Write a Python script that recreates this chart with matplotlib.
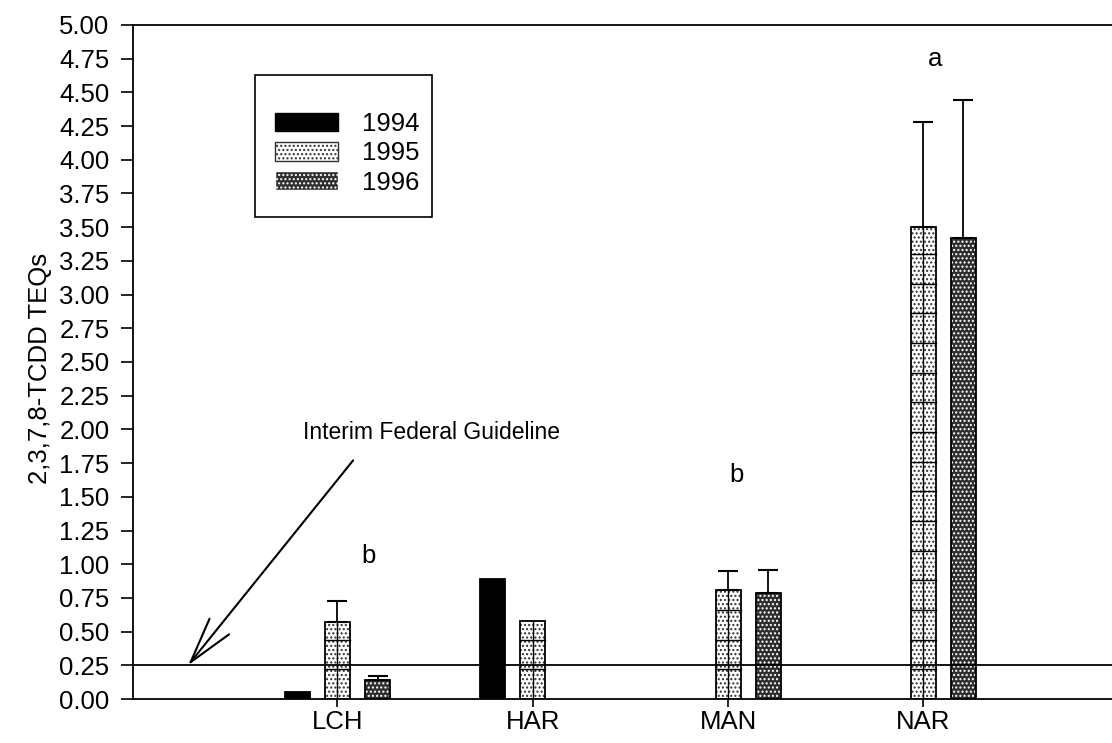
import numpy as np
import matplotlib
matplotlib.use("Agg")
import matplotlib.pyplot as plt
from matplotlib.patches import Patch, Rectangle

plt.rcParams['font.family'] = ['Liberation Sans', 'DejaVu Sans']

sites = ['LCH', 'HAR', 'MAN', 'NAR']
years = ['1994', '1995', '1996']
nan = np.nan
teq_1994 = [0.05, 0.89, nan, nan]
teq_1995 = [0.57, 0.58, 0.81, 3.50]
teq_1996 = [0.14, nan, 0.79, 3.42]
err_1995 = [0.16, 0.0, 0.14, 0.78]
err_1996 = [0.03, nan, 0.17, 1.02]
guideline = 0.25
group_letters = [('b', 0.16, 1.06), ('b', 2.045, 1.66), ('a', 3.06, 4.75)]
yticks = np.arange(0, 5.01, 0.25)

fs = 18.5
W, H = 1112, 743
fig = plt.figure(figsize=(W / 100, H / 100), dpi=100)
ax = fig.add_axes([0.1196, 0.0592, 0.8804, 0.9072])

x = np.arange(len(sites))
off = 0.205
w = 0.128
edge_lw = 1.3

# 1994: solid black
ax.bar(x - off, teq_1994, w, color='black', edgecolor='black', linewidth=edge_lw)

# 1995: light stipple with a grid
ax.bar(x, teq_1995, w, facecolor='white', edgecolor='#303030',
       hatch='....', linewidth=0)
ax.bar(x, teq_1995, w, facecolor='none', edgecolor='black', linewidth=edge_lw)
for xi, h in zip(x, teq_1995):
    ax.plot([xi, xi], [0, h], color='black', lw=1.0, zorder=3)
    for yy in np.arange(0.22, h, 0.22):
        ax.plot([xi - w / 2, xi + w / 2], [yy, yy], color='black', lw=1.0, zorder=3)

# 1996: dark stipple
ax.bar(x + off, teq_1996, w, facecolor='#2e2e2e', edgecolor='white',
       hatch='....', linewidth=0)
ax.bar(x + off, teq_1996, w, facecolor='none', edgecolor='black', linewidth=edge_lw)

# upper-only error bars
for xs, vals, errs in [(x, teq_1995, err_1995), (x + off, teq_1996, err_1996)]:
    for xi, v, e in zip(xs, vals, errs):
        if np.isnan(v) or np.isnan(e) or e <= 0:
            continue
        ax.errorbar(xi, v, yerr=[[0], [e]], fmt='none', ecolor='black',
                    elinewidth=1.3, capsize=7.2, capthick=1.5, zorder=4)

ax.axhline(guideline, color='black', lw=1.3, zorder=5)

ax.text(-0.178, 1.98, 'Interim Federal Guideline', fontsize=16.5,
        ha='left', va='center')
ax.annotate('', xy=(-0.765, guideline), xytext=(0.08, 1.77),
            arrowprops=dict(arrowstyle='->,head_length=33,head_width=9',
                            mutation_scale=1, color='black', lw=1.5,
                            shrinkA=0, shrinkB=0))

for s, lx, ly in group_letters:
    ax.text(lx, ly, s, fontsize=fs, ha='center', va='center')

# legend: entries placed without a frame, box drawn separately
handles = [
    Patch(facecolor='black', edgecolor='black'),
    Patch(facecolor='white', edgecolor='#303030', hatch='....'),
    Patch(facecolor='#2e2e2e', edgecolor='white', hatch='....'),
]
leg = ax.legend(handles, years, loc='upper left',
                bbox_to_anchor=(275 / W, 1 - 112 / H),
                bbox_transform=fig.transFigure, fontsize=fs,
                frameon=False, handlelength=2.45, handleheight=0.74,
                labelspacing=0.21, handletextpad=0.93, borderpad=0,
                borderaxespad=0)
fig.add_artist(Rectangle((255 / W, 1 - 217 / H), 177 / W, 142 / H,
                         transform=fig.transFigure, fill=False,
                         edgecolor='black', linewidth=1.2))

ax.set_xlim(-1.047, 3.966)
ax.set_ylim(0, 5)
ax.set_yticks(yticks)
ax.set_yticklabels([f'{t:.2f}' for t in yticks], fontsize=fs)
ax.set_xticks(x)
ax.set_xticklabels(sites, fontsize=fs)
ax.tick_params(axis='y', direction='out', length=9, width=1.2, pad=8)
ax.tick_params(axis='x', direction='out', length=6, width=1.2, pad=2)
ax.spines['right'].set_visible(False)
for sp in ['top', 'left', 'bottom']:
    ax.spines[sp].set_linewidth(1.3)
ax.set_ylabel('2,3,7,8-TCDD TEQs', fontsize=fs, labelpad=12)
ax.yaxis.set_label_coords(-0.083, 0.49)

fig.savefig('out.png', dpi=100)
